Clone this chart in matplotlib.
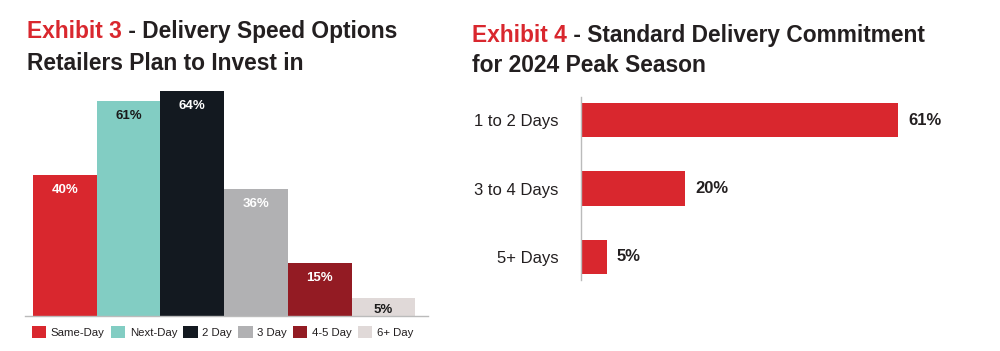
import matplotlib
matplotlib.use("Agg")
import matplotlib.pyplot as plt
from matplotlib.patches import Patch

plt.rcParams['font.family'] = ['Liberation Sans', 'DejaVu Sans']

# ---- data ----
speed_labels = ['Same-Day', 'Next-Day', '2 Day', '3 Day', '4-5 Day', '6+ Day']
speed_values = [40, 61, 64, 36, 15, 5]
speed_colors = ['#D9272E', '#82CDC3', '#131920', '#B1B1B3', '#931B23', '#E0D9D8']
speed_text = ['white', '#1a1a1a', 'white', 'white', 'white', '#1a1a1a']

commit_labels = ['1 to 2 Days', '3 to 4 Days', '5+ Days']
commit_values = [61, 20, 5]

RED = '#D9272E'
DARK = '#231F20'

W, H = 1000, 351
fig = plt.figure(figsize=(10, 3.51), dpi=100)

def box(x0, y0, x1, y1):
    # pixel box (top-left origin) -> figure fraction
    return [x0 / W, 1 - y1 / H, (x1 - x0) / W, (y1 - y0) / H]

# ---- Exhibit 3 ----
ax1 = fig.add_axes(box(25, 85, 428, 316))
xs = list(range(len(speed_values)))
ax1.bar(xs, speed_values, width=1.0, color=speed_colors, edgecolor='none')
for x, v, c in zip(xs, speed_values, speed_text):
    off = -15 if v > 10 else -12
    ax1.annotate(f'{v}%', (x, v), xytext=(0, off), textcoords='offset pixels',
                 ha='center', va='center', fontsize=9.5, fontweight='bold', color=c)
ax1.set_xlim(-0.5 - 0.126, 5.5 + 0.2)
ax1.set_ylim(0, 65.6)
for s in ['left', 'right', 'top']:
    ax1.spines[s].set_visible(False)
ax1.spines['bottom'].set_color('#BBBBBB')
ax1.spines['bottom'].set_linewidth(1.0)
ax1.set_xticks([])
ax1.set_yticks([])

handles = [Patch(facecolor=c, edgecolor='none', label=l) for c, l in zip(speed_colors, speed_labels)]
fig.legend(handles=handles, loc='upper left', bbox_to_anchor=(32 / W, 1 - 326 / H), ncol=6,
           frameon=False, fontsize=8.2, handlelength=1.25, handleheight=1.25, handletextpad=0.4,
           columnspacing=0.55, borderpad=0, borderaxespad=0, labelcolor=DARK)

# ---- Exhibit 4 ----
ax2 = fig.add_axes(box(581, 97, 980, 280))
ys = list(range(len(commit_values)))
ax2.barh(ys, commit_values, height=0.5, color=RED, edgecolor='none')
for y, v in zip(ys, commit_values):
    ax2.annotate(f'{v}%', (v, y), xytext=(10, 0), textcoords='offset pixels',
                 ha='left', va='center', fontsize=12, fontweight='bold', color=DARK)
ax2.set_xlim(0, 76.7)
ax2.set_ylim(2.336, -0.336)
ax2.set_yticks(ys)
ax2.set_yticklabels(commit_labels, fontsize=12, color=DARK)
ax2.tick_params(axis='y', length=0, pad=16)
ax2.set_xticks([])
for s in ['right', 'top', 'bottom']:
    ax2.spines[s].set_visible(False)
ax2.spines['left'].set_color('#BBBBBB')
ax2.spines['left'].set_linewidth(1.0)

# ---- titles (two colours on first line) ----
renderer = fig.canvas.get_renderer()

def title(x, y1, y2, red, rest, line2):
    t = fig.text(x / W, 1 - y1 / H, red, color=RED, fontsize=16.4, fontweight='bold', va='baseline')
    bb = t.get_window_extent(renderer)
    fig.text(bb.x1 / W, 1 - y1 / H, rest, color=DARK, fontsize=16.4, fontweight='bold', va='baseline')
    fig.text(x / W, 1 - y2 / H, line2, color=DARK, fontsize=16.4, fontweight='bold', va='baseline')

title(27, 38, 70, 'Exhibit 3', ' - Delivery Speed Options', 'Retailers Plan to Invest in')
title(472, 42, 72, 'Exhibit 4', ' - Standard Delivery Commitment', 'for 2024 Peak Season')

fig.savefig('out.png', dpi=100)
